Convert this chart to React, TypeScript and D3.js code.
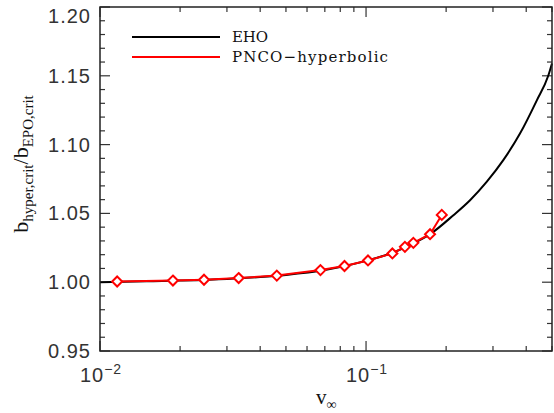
import React from "react";
import * as d3 from "d3";

const ehoV = [0.01, 0.015, 0.02, 0.03, 0.04, 0.05, 0.07, 0.1, 0.13, 0.15, 0.174, 0.213, 0.246, 0.284, 0.328, 0.379, 0.438, 0.484, 0.5];
const ehoB = [1.0, 1.0006, 1.0012, 1.0024, 1.0038, 1.0053, 1.0088, 1.0155, 1.0225, 1.028, 1.0349, 1.0487, 1.0596, 1.0729, 1.0887, 1.108, 1.132, 1.15, 1.159];

const pncoV = [0.0116, 0.0188, 0.0246, 0.0332, 0.0462, 0.0674, 0.083, 0.1017, 0.1256, 0.14, 0.1506, 0.174, 0.1926];
const pncoB = [1.0005, 1.0012, 1.0018, 1.003, 1.0048, 1.0088, 1.0118, 1.0158, 1.0209, 1.0257, 1.0286, 1.0349, 1.0489];

const yMajor = [0.95, 1.0, 1.05, 1.1, 1.15, 1.2];
const yMajorLabels = ["0.95", "1.00", "1.05", "1.10", "1.15", "1.20"];
const xMajor = [0.01, 0.1];
const xMajorExp = ["\u22122", "\u22121"];
const legendLabels = ["EHO", "PNCO\u2212hyperbolic"];
const legendWidths = [36, 156];
const legendColors = ["#000000", "#ff0000"];

const L = 100, R = 552, T = 7, B = 351;

export default function App() {
  const x = d3.scaleLog().domain([0.01, 0.5]).range([L, R]);
  const y = d3.scaleLinear().domain([0.95, 1.2]).range([B, T]);

  const yMinor: number[] = [];
  for (let i = 0; i <= 25; i++) {
    const v = 0.95 + i * 0.01;
    if (i % 5 !== 0) yMinor.push(v);
  }
  const xMinor: number[] = [];
  for (const dec of [0.01, 0.1]) {
    for (let k = 2; k <= 9; k++) {
      const v = dec * k;
      if (v <= 0.5 + 1e-9) xMinor.push(v);
    }
  }

  const ehoData = ehoV.map((v, i) => [v, ehoB[i]] as [number, number]);
  const pncoData = pncoV.map((v, i) => [v, pncoB[i]] as [number, number]);
  const line = d3
    .line<[number, number]>()
    .x((d) => x(d[0]))
    .y((d) => y(d[1]))
    .curve(d3.curveMonotoneX);
  const straight = d3
    .line<[number, number]>()
    .x((d) => x(d[0]))
    .y((d) => y(d[1]));

  const tickColor = "#333";
  const font = "'Liberation Sans', Arial, sans-serif";
  const serif = "'Liberation Serif', 'DejaVu Serif', serif";

  return (
    <svg
      width={554}
      height={413}
      style={{ position: "absolute", left: 0, top: 0, background: "#fff" }}
    >
      <rect x={0} y={0} width={554} height={413} fill="#fff" />
      {yMajor.map((v) => (
        <g key={"ym" + v}>
          <line x1={L} x2={L + 10} y1={y(v)} y2={y(v)} stroke={tickColor} strokeWidth={1.2} />
          <line x1={R} x2={R - 10} y1={y(v)} y2={y(v)} stroke={tickColor} strokeWidth={1.2} />
        </g>
      ))}
      {yMinor.map((v) => (
        <g key={"yn" + v}>
          <line x1={L} x2={L + 5} y1={y(v)} y2={y(v)} stroke={tickColor} strokeWidth={1.2} />
          <line x1={R} x2={R - 5} y1={y(v)} y2={y(v)} stroke={tickColor} strokeWidth={1.2} />
        </g>
      ))}
      {xMajor.map((v) => (
        <g key={"xm" + v}>
          <line x1={x(v)} x2={x(v)} y1={B} y2={B - 10} stroke={tickColor} strokeWidth={1.2} />
          <line x1={x(v)} x2={x(v)} y1={T} y2={T + 10} stroke={tickColor} strokeWidth={1.2} />
        </g>
      ))}
      {xMinor.map((v) => (
        <g key={"xn" + v}>
          <line x1={x(v)} x2={x(v)} y1={B} y2={B - 5} stroke={tickColor} strokeWidth={1.2} />
          <line x1={x(v)} x2={x(v)} y1={T} y2={T + 5} stroke={tickColor} strokeWidth={1.2} />
        </g>
      ))}
      {yMajor.map((v, i) => (
        <text
          key={"yl" + v}
          x={L - 9}
          y={Math.max(y(v) + 7, 23)}
          textAnchor="end"
          fontFamily={font}
          fontSize={20}
          letterSpacing={1}
          fill="#333"
        >
          {yMajorLabels[i]}
        </text>
      ))}
      {xMajor.map((v, i) => (
        <text
          key={"xl" + v}
          x={x(v) + 1}
          y={382}
          textAnchor="middle"
          fontFamily={font}
          fontSize={20}
          letterSpacing={1}
          fill="#333"
        >
          10
          <tspan dy={-8} fontSize={14}>
            {xMajorExp[i]}
          </tspan>
        </text>
      ))}
      <path d={line(ehoData) || ""} fill="none" stroke="#000" strokeWidth={2} />
      <path d={straight(pncoData) || ""} fill="none" stroke="#ff0000" strokeWidth={2} />
      {pncoData.map((d, i) => {
        const cx = x(d[0]);
        const cy = y(d[1]);
        const s = 5;
        return (
          <path
            key={"p" + i}
            d={`M${cx},${cy - s}L${cx + s},${cy}L${cx},${cy + s}L${cx - s},${cy}Z`}
            fill="#fff"
            stroke="#ff0000"
            strokeWidth={2}
          />
        );
      })}
      <rect x={L} y={T} width={R - L} height={B - T} fill="none" stroke="#222" strokeWidth={1.5} />
      {legendLabels.map((lab, i) => (
        <g key={"lg" + i}>
          <line x1={132} x2={220} y1={37 + i * 20} y2={37 + i * 20} stroke={legendColors[i]} strokeWidth={2} />
          <text
            x={232}
            y={42 + i * 20}
            fontFamily="'DejaVu Serif', serif"
            fontSize={15}
            textLength={legendWidths[i]}
            lengthAdjust="spacing"
            fill="#111"
          >
            {lab}
          </text>
        </g>
      ))}
      <text x={316} y={404} fontFamily={serif} fontSize={21} fill="#111">
        v
        <tspan dy={5} fontSize={14}>
          {"\u221E"}
        </tspan>
      </text>
      <text
        transform={`translate(28,164) rotate(-90)`}
        textAnchor="middle"
        fontFamily={serif}
        fontSize={22}
        fill="#111"
      >
        b
        <tspan dy={5} fontSize={15}>
          hyper,crit
        </tspan>
        <tspan dy={-5} fontSize={22}>
          /b
        </tspan>
        <tspan dy={5} fontSize={15}>
          EPO,crit
        </tspan>
      </text>
    </svg>
  );
}
